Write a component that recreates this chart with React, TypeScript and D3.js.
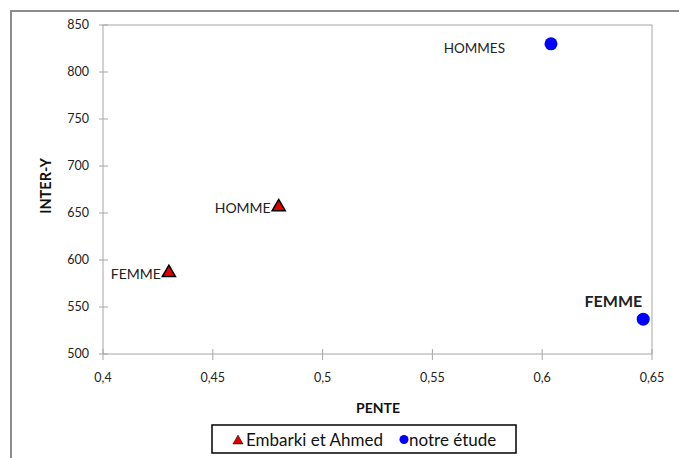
import React from "react";
import * as d3 from "d3";

const seriesNames = ["Embarki et Ahmed", "notre étude"];
const embarkiX = [0.43, 0.48];
const embarkiY = [588, 658];
const embarkiLabels = ["FEMME", "HOMME"];
const notreX = [0.604, 0.646];
const notreY = [830, 537];
const notreLabels = ["HOMMES", "FEMME"];
const xTicks = [0.4, 0.45, 0.5, 0.55, 0.6, 0.65];
const yTicks = [500, 550, 600, 650, 700, 750, 800, 850];

const W = 679, H = 458;
const FONT = "Lato, 'Open Sans', sans-serif";

export default function App() {
  const x = d3.scaleLinear().domain([0.4, 0.65]).range([103, 652]);
  const y = d3.scaleLinear().domain([500, 850]).range([354, 25]);
  const fmt = (v: number) => String(+v.toFixed(2)).replace(".", ",");
  const tri = d3.symbol().type(d3.symbolTriangle).size(75)();
  const gray = "#a6a6a6";
  return (
    <svg width={W} height={H} style={{ position: "absolute", left: 0, top: 0, background: "#fff" }}>
      <rect x={11} y={11} width={W} height={H} fill="#fff" stroke="#8c8c8c" strokeWidth={2} />
      <rect x={x(0.4)} y={y(850)} width={x(0.65) - x(0.4)} height={y(500) - y(850)} fill="none" stroke={gray} strokeWidth={1} />
      {yTicks.map((t) => (
        <g key={"y" + t}>
          <line x1={99} x2={108} y1={y(t)} y2={y(t)} stroke={gray} />
          <text x={89} y={y(t)} dy="0.35em" textAnchor="end" fontSize={12.5} fontFamily={FONT} fill="#222">{t}</text>
        </g>
      ))}
      {xTicks.map((t) => (
        <g key={"x" + t}>
          <line x1={x(t)} x2={x(t)} y1={349} y2={360} stroke={gray} />
          <text x={x(t)} y={382} textAnchor="middle" fontSize={12.5} fontFamily={FONT} fill="#222">{fmt(t)}</text>
        </g>
      ))}
      <text x={378} y={413} textAnchor="middle" fontSize={14} fontWeight="bold" fontFamily={FONT} fill="#111">PENTE</text>
      <text transform={`translate(51,186) rotate(-90)`} textAnchor="middle" fontSize={14.5} fontWeight="bold" fontFamily={FONT} fill="#111">INTER-Y</text>
      {embarkiX.map((v, i) => (
        <g key={"e" + i}>
          <path d={tri!} transform={`translate(${x(v)},${y(embarkiY[i]) + 1.5})`} fill="#e00000" stroke="#000" strokeWidth={1.5} />
          <text x={x(v) - 8} y={y(embarkiY[i]) + 7.5} textAnchor="end" fontSize={14} fontFamily={FONT} fill="#222">{embarkiLabels[i]}</text>
        </g>
      ))}
      {notreX.map((v, i) => (
        <g key={"n" + i}>
          <circle cx={x(v)} cy={y(notreY[i])} r={6.5} fill="#0000ff" />
        </g>
      ))}
      <text x={x(notreX[0]) - 46} y={y(notreY[0]) + 9} textAnchor="end" fontSize={13.5} fontFamily={FONT} fill="#222">{notreLabels[0]}</text>
      <text x={x(notreX[1]) - 1} y={y(notreY[1]) - 12} textAnchor="end" fontSize={16} fontWeight="bold" fontFamily={FONT} fill="#222">{notreLabels[1]}</text>
      <rect x={212} y={425} width={304} height={28} fill="#fff" stroke="#000" strokeWidth={1.5} />
      <path d={d3.symbol().type(d3.symbolTriangle).size(45)()!} transform="translate(238,441)" fill="#e00000" stroke="#000" strokeWidth={0.5} />
      <text x={246} y={446} fontSize={17} fontFamily={FONT} fill="#111">{seriesNames[0]}</text>
      <circle cx={404} cy={439.5} r={4.5} fill="#0000ff" />
      <text x={409} y={446} fontSize={17} fontFamily={FONT} fill="#111">{seriesNames[1]}</text>
    </svg>
  );
}
